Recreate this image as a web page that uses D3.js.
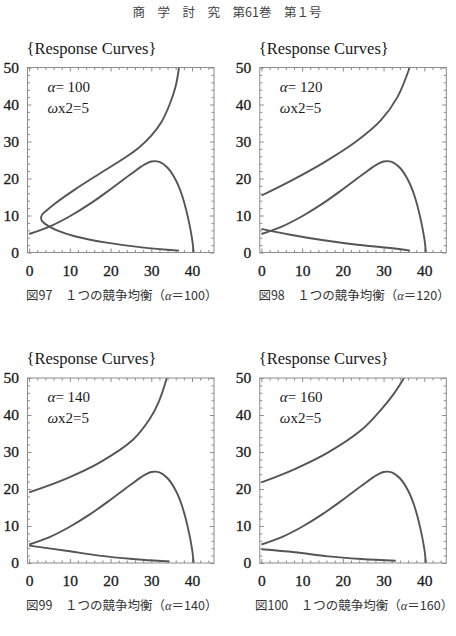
<!DOCTYPE html>
<html>
<head>
<meta charset="utf-8">
<script src="https://cdn.jsdelivr.net/npm/d3@7"></script>
<style>
  body { margin: 0; background: #fff; }
  svg { display: block; }
  .frame { fill: none; stroke: #8c8c8c; stroke-width: 1; }
  .axis path { display: none; }
  .axis line { stroke: #8c8c8c; stroke-width: 1; }
  .axis text { fill: #1a1a1a; stroke: #1a1a1a; stroke-width: 0.3; }
  .curve { fill: none; stroke: #555; stroke-width: 1.9; stroke-linejoin: round; }
  .title { font-family: "Liberation Serif", serif; font-size: 16.5px; fill: #1a1a1a; }
  .note { font-family: "Liberation Serif", serif; font-size: 15px; fill: #1a1a1a; }
  .caption { font-family: "Noto Sans CJK JP", sans-serif; font-size: 12.5px; fill: #333; }
  .header { font-family: "Noto Sans CJK JP", sans-serif; font-size: 12.5px; fill: #444; }
</style>
</head>
<body>
<svg id="chart" width="456" height="636"></svg>
<script>
// panel parameters
const alphas = [100, 120, 140, 160];
const figNums = [97, 98, 99, 100];
const omegaX2 = 5;

// tick values
const xMajor = [0, 10, 20, 30, 40];
const yMajor = [0, 10, 20, 30, 40, 50];
const xMinor = d3.range(0, 46, 2).filter(v => v % 10 !== 0);
const yMinor = d3.range(0, 50, 2).filter(v => v % 10 !== 0);

// hump-shaped response curve (same in every panel)
const humpX = [0, 5, 10, 15, 20, 25, 27.5, 30, 32, 34, 36, 37.5, 39, 40, 40.4];
const humpY = [5, 7, 9.8, 13.2, 17.1, 21.2, 23.2, 24.6, 24.5, 22.9, 19.6, 15.6, 9.5, 3.8, 0];

// alpha = 100: one C-shaped curve, bottom-right to top
const c100X = [36.8, 27.6, 19.4, 11.2, 7, 5, 3.5, 3, 2.95, 3.3, 4.2, 6.3, 11.2, 17, 23.5, 27, 30, 32.5, 34.5, 36, 36.8];
const c100Y = [0.5, 1.4, 2.6, 4.4, 5.9, 7, 8.1, 8.9, 9.6, 10.4, 11.3, 13.2, 17, 21.1, 25.6, 28.4, 31.6, 35.3, 40, 45, 50];

// alpha = 120..160: upper and lower branches
const up120X = [0, 7.1, 15.3, 23.5, 29.3, 33.4, 36.4];
const up120Y = [15.4, 19.3, 24.3, 30.2, 35.7, 42, 50];
const lo120X = [0, 7.1, 15.3, 23.5, 31.7, 36.5];
const lo120Y = [6.4, 4.8, 3.3, 2.1, 1.2, 0.5];

const up140X = [0, 9.3, 17.4, 25.5, 29.6, 31.8, 33.8];
const up140Y = [19.1, 22.9, 27.2, 33.3, 38.9, 43.5, 50];
const lo140X = [0, 9.1, 17.2, 25.4, 34.5];
const lo140Y = [4.7, 3.3, 2, 1.1, 0.4];

const up160X = [0, 8.2, 16.4, 24.6, 29.5, 32.5, 35];
const up160Y = [21.8, 25.4, 29.9, 36, 41.6, 45.7, 50];
const lo160X = [0, 8.2, 16.4, 24.6, 33];
const lo160Y = [3.7, 2.9, 1.8, 1.1, 0.6];

const zip = (xs, ys) => xs.map((x, i) => [x, ys[i]]);
const panelCurves = [
  [zip(c100X, c100Y)],
  [zip(up120X, up120Y), zip(lo120X, lo120Y)],
  [zip(up140X, up140Y), zip(lo140X, lo140Y)],
  [zip(up160X, up160Y), zip(lo160X, lo160Y)]
];

// layout
const cols = [27.5, 259.8];
const rows = [67.5, 378];
const W = 186.5, H = 185;

const svg = d3.select("#chart");

svg.append("text").attr("class", "header")
  .attr("x", 227).attr("y", 17).attr("text-anchor", "middle")
  .text("商　学　討　究　第61巻　第１号");

const x = d3.scaleLinear().domain([-0.4, 45.4]).range([0, W]);
const y = d3.scaleLinear().domain([0, 50]).range([H, 0]);
const line = d3.line().x(d => x(d[0])).y(d => y(d[1])).curve(d3.curveCatmullRom.alpha(0.5));

function serifTicks(sel) {
  sel.attr("font-family", "Liberation Serif, serif").attr("font-size", 15.5);
}

alphas.forEach((a, i) => {
  const g = svg.append("g")
    .attr("transform", `translate(${cols[i % 2]},${rows[Math.floor(i / 2)]})`);

  g.append("text").attr("class", "title")
    .attr("x", -1).attr("y", -14)
    .text("{Response Curves}");

  g.append("clipPath").attr("id", "clip" + i)
    .append("rect").attr("width", W).attr("height", H);

  // ticks, all four sides, pointing in
  g.append("g").attr("class", "axis").attr("transform", `translate(0,${H})`)
    .call(d3.axisBottom(x).tickValues(xMajor).tickSize(-4).tickPadding(12).tickFormat(d3.format("d")))
    .call(serifTicks);
  g.append("g").attr("class", "axis").attr("transform", `translate(0,${H})`)
    .call(d3.axisBottom(x).tickValues(xMinor).tickSize(-2.5).tickFormat(""));
  g.append("g").attr("class", "axis")
    .call(d3.axisTop(x).tickValues(xMajor).tickSize(-4).tickFormat(""));
  g.append("g").attr("class", "axis")
    .call(d3.axisTop(x).tickValues(xMinor).tickSize(-2.5).tickFormat(""));
  g.append("g").attr("class", "axis")
    .call(d3.axisLeft(y).tickValues(yMajor).tickSize(-4).tickPadding(8.5).tickFormat(d3.format("d")))
    .call(serifTicks);
  g.append("g").attr("class", "axis")
    .call(d3.axisLeft(y).tickValues(yMinor).tickSize(-2.5).tickFormat(""));
  g.append("g").attr("class", "axis").attr("transform", `translate(${W},0)`)
    .call(d3.axisRight(y).tickValues(yMajor).tickSize(-4).tickFormat(""));
  g.append("g").attr("class", "axis").attr("transform", `translate(${W},0)`)
    .call(d3.axisRight(y).tickValues(yMinor).tickSize(-2.5).tickFormat(""));

  const plot = g.append("g").attr("clip-path", `url(#clip${i})`);
  plot.append("path").attr("class", "curve").attr("d", line(zip(humpX, humpY)));
  panelCurves[i].forEach(c => {
    plot.append("path").attr("class", "curve").attr("d", line(c));
  });

  g.append("rect").attr("class", "frame").attr("width", W).attr("height", H);

  const n1 = g.append("text").attr("class", "note").attr("x", 20).attr("y", 24);
  n1.append("tspan").attr("font-style", "italic").text("α");
  n1.append("tspan").text("= " + a);
  const n2 = g.append("text").attr("class", "note").attr("x", 20).attr("y", 45);
  n2.append("tspan").attr("font-style", "italic").text("ω");
  n2.append("tspan").text("x2=" + omegaX2);

  const cap = g.append("text").attr("class", "caption")
    .attr("x", W / 2 + 1).attr("y", H + 47).attr("text-anchor", "middle");
  cap.append("tspan").text("図" + figNums[i] + "　１つの競争均衡（");
  cap.append("tspan").attr("font-style", "italic").attr("font-family", "Liberation Serif").text("α");
  cap.append("tspan").text("＝" + a + "）");
});
</script>
</body>
</html>
